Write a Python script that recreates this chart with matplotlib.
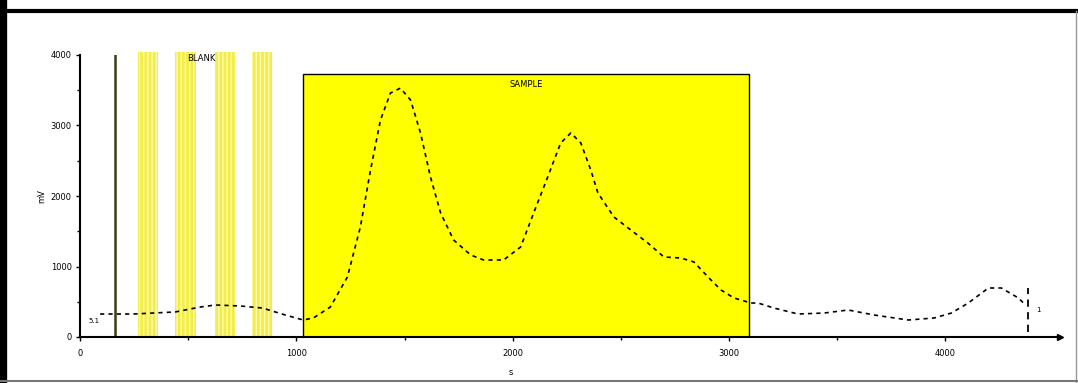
import matplotlib.pyplot as plt
from matplotlib.patches import Rectangle
from matplotlib.lines import Line2D

# trace (x in s, y in mV)
trace_x = [93, 245, 440, 556, 625, 741, 843, 949, 1032, 1079, 1157, 1236, 1296, 1343,
           1389, 1435, 1481, 1528, 1574, 1620, 1667, 1727, 1806, 1866, 1958, 2037,
           2097, 2162, 2222, 2269, 2315, 2361, 2394, 2468, 2546, 2625, 2699, 2778,
           2838, 2903, 2963, 3023, 3102, 3134, 3208, 3319, 3440, 3551, 3671, 3829,
           3949, 4028, 4106, 4199, 4259, 4338, 4361]
trace_y = [326, 326, 355, 425, 454, 440, 411, 312, 241, 270, 425, 851, 1560, 2369,
           3078, 3460, 3530, 3362, 2894, 2270, 1759, 1376, 1163, 1092, 1092, 1277,
           1759, 2270, 2752, 2894, 2752, 2369, 2043, 1702, 1518, 1333, 1135, 1120,
           1064, 851, 667, 553, 482, 482, 411, 326, 340, 383, 312, 241,
           270, 340, 482, 695, 695, 553, 482]

blank_bands = [(268, 361), (440, 537), (625, 718), (796, 889)]
blank_line_x = 162
sample_window = (1032, 3093)
sample_height = 3730
end_marker_x = 4384
end_marker_y = [70, 690]

xticks = [0, 1000, 2000, 3000, 4000]
yticks = [0, 1000, 2000, 3000, 4000]

fig = plt.figure(figsize=(10.78, 3.83), dpi=100)
ax = fig.add_axes([80 / 1078, 46 / 383, 980 / 1078, 282 / 383])

for x0, x1 in blank_bands:
    ax.axvspan(x0, x1, ymin=0, ymax=1.01, facecolor='#f2ee45', edgecolor='#fbf9b8',
               hatch='||||', linewidth=0, zorder=1, clip_on=False)
ax.axvline(blank_line_x, color='#3c3c14', lw=1.8, zorder=2)

ax.add_patch(Rectangle((sample_window[0], 0), sample_window[1] - sample_window[0],
                       sample_height, facecolor='#ffff00', edgecolor='black',
                       lw=1.0, zorder=2))

ax.plot(trace_x, trace_y, color='black', lw=1.2, ls=(0, (2.5, 2.5)), zorder=3)
ax.plot([end_marker_x, end_marker_x], end_marker_y, color='black', lw=1.3,
        ls=(0, (4, 3)), zorder=3)

ax.text(560, 3950, 'BLANK', fontsize=6, ha='center', va='center', zorder=4)
ax.text((sample_window[0] + sample_window[1]) / 2, sample_height - 80, 'SAMPLE',
        fontsize=6, ha='center', va='top', zorder=4)
ax.text(40, 230, '5.1', fontsize=5, ha='left', va='center')
ax.text(4420, 380, '1', fontsize=5, ha='left', va='center')

ax.set_xlim(0, 4530)
ax.set_ylim(0, 4000)
ax.set_xticks(xticks)
ax.set_yticks(yticks)
ax.set_xticks([500, 1500, 2500, 3500], minor=True)
ax.set_yticks([500, 1500, 2500, 3500], minor=True)
ax.tick_params(labelsize=6, length=3, width=1)
ax.tick_params(axis='x', pad=6)
ax.tick_params(axis='y', pad=3)
ax.tick_params(which='minor', length=2, width=1)
ax.set_xlabel('s', fontsize=6)
ax.xaxis.set_label_coords(0.44, -0.11)
ax.set_ylabel('mV', fontsize=6, labelpad=3)

for s in ['top', 'right']:
    ax.spines[s].set_visible(False)
for s in ['left', 'bottom']:
    ax.spines[s].set_linewidth(1.5)
ax.plot(1, 0, '>', color='black', ms=4, transform=ax.transAxes, clip_on=False)

# outer frame
fig.add_artist(Line2D([0.003, 0.003], [0, 1], color='black', lw=6, transform=fig.transFigure))
fig.add_artist(Line2D([0, 1], [0.972, 0.972], color='black', lw=3, transform=fig.transFigure))
fig.add_artist(Line2D([0.998, 0.998], [0, 0.97], color='#999999', lw=1, transform=fig.transFigure))
fig.add_artist(Line2D([0, 1], [0.006, 0.006], color='#777777', lw=1.5, transform=fig.transFigure))

fig.savefig('out.png', dpi=100)
